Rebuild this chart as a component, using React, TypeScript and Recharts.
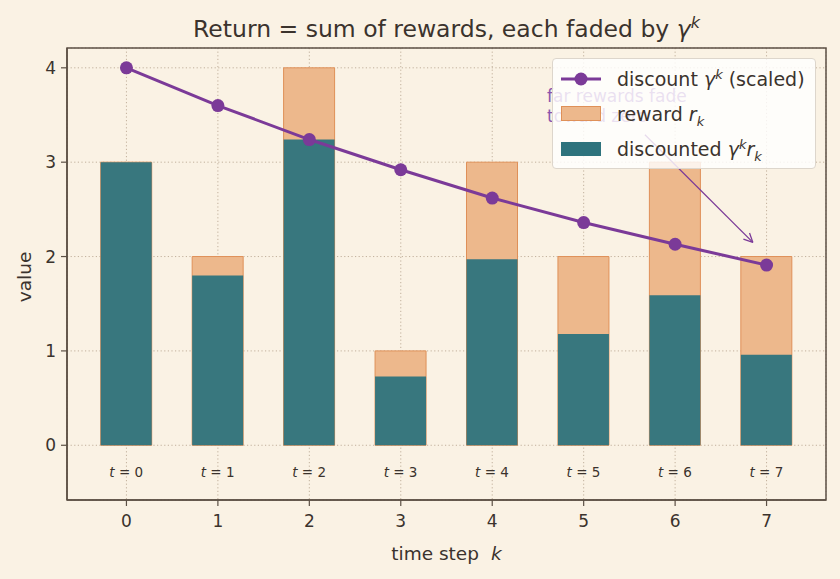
import React from 'react'
import {
  ComposedChart, Bar, Line, XAxis, YAxis, CartesianGrid, Legend,
  LabelList, ReferenceArea, ReferenceDot, ReferenceLine,
} from 'recharts'

const steps = [0, 1, 2, 3, 4, 5, 6, 7]
const rewards = [3, 2, 4, 1, 3, 2, 3, 2]
const discountScaled = [4, 3.6, 3.24, 2.92, 2.62, 2.36, 2.13, 1.91]
const discounted = [3, 1.8, 3.24, 0.73, 1.97, 1.18, 1.59, 0.96]
const xTicks = [0, 1, 2, 3, 4, 5, 6, 7]
const yTicks = [0, 1, 2, 3, 4]

const data = steps.map((k, i) => ({
  k,
  reward: rewards[i],
  discount: discountScaled[i],
  discounted: discounted[i],
}))

const BG = '#faf2e4'
const INK = '#3b332d'
const FRAME = '#5c5045'
const PURPLE = '#7b3a98'
const TEAL = '#2e737d'
const PEACH = '#edb88c'
const PEACH_EDGE = '#df9058'
const FONT = '"DejaVu Sans", sans-serif'

const X_DOMAIN: [number, number] = [-0.65, 7.65]
const Y_DOMAIN: [number, number] = [-0.58, 4.21]

const Arrow = (p: any) => {
  const { x1, y1, x2, y2 } = p
  const a = Math.atan2(y2 - y1, x2 - x1)
  const h = 10
  const s = 0.45
  return (
    <g stroke={PURPLE} strokeWidth={1.3} fill="none">
      <line x1={x1} y1={y1} x2={x2} y2={y2} />
      <line x1={x2} y1={y2} x2={x2 - h * Math.cos(a - s)} y2={y2 - h * Math.sin(a - s)} />
      <line x1={x2} y1={y2} x2={x2 - h * Math.cos(a + s)} y2={y2 - h * Math.sin(a + s)} />
    </g>
  )
}

const NoteLabel = (p: any) => {
  const { viewBox } = p
  const x = viewBox.x
  const y = viewBox.y
  return (
    <text x={x} y={y} fill="#8a55ad" fontSize={17} fontFamily={FONT} dominantBaseline="central">
      <tspan x={x} dy={-10}>far rewards fade</tspan>
      <tspan x={x} dy={20}>toward zero</tspan>
    </text>
  )
}

const StepLabel = (p: any) => {
  const { x, y, width, height, index } = p
  return (
    <text
      x={x + width / 2}
      y={y + height + 27}
      textAnchor="middle"
      dominantBaseline="central"
      fontSize={13.5}
      fill={INK}
      fontFamily={FONT}
    >
      <tspan fontStyle="italic">t</tspan>
      <tspan> = {steps[index]}</tspan>
    </text>
  )
}

const LegendBox = () => {
  const row: React.CSSProperties = { display: 'flex', alignItems: 'center', height: 35, lineHeight: '20px' }
  const icon: React.CSSProperties = { width: 40, marginRight: 16, display: 'flex', alignItems: 'center', justifyContent: 'center' }
  const script: React.CSSProperties = { fontSize: 13, lineHeight: 0 }
  return (
    <div
      style={{
        background: 'rgba(255,255,255,0.82)',
        border: '1px solid #ddd6cc',
        borderRadius: 4,
        padding: '2px 8px',
        fontFamily: FONT,
        fontSize: 19,
        color: INK,
        boxSizing: 'border-box',
        whiteSpace: 'nowrap',
      }}
    >
      <div style={row}>
        <div style={icon}>
          <svg width={40} height={14}>
            <line x1={0} y1={7} x2={40} y2={7} stroke={PURPLE} strokeWidth={3} />
            <circle cx={20} cy={7} r={6.5} fill={PURPLE} />
          </svg>
        </div>
        <span>discount <i>γ</i><sup style={script}><i>k</i></sup> (scaled)</span>
      </div>
      <div style={row}>
        <div style={icon}>
          <div style={{ width: 38, height: 13, background: PEACH, border: `1px solid ${PEACH_EDGE}` }} />
        </div>
        <span>reward <i>r</i><sub style={script}><i>k</i></sub></span>
      </div>
      <div style={row}>
        <div style={icon}>
          <div style={{ width: 40, height: 14, background: TEAL }} />
        </div>
        <span>discounted <i>γ</i><sup style={script}><i>k</i></sup><i>r</i><sub style={script}><i>k</i></sub></span>
      </div>
    </div>
  )
}

export default function App() {
  return (
    <div style={{ position: 'absolute', left: 0, top: 0, width: 840, height: 579, background: BG, fontFamily: FONT }}>
      <div
        style={{
          position: 'absolute', left: 67, width: 759, top: 15, textAlign: 'center',
          fontSize: 23.5, lineHeight: '28px', color: INK, fontFamily: FONT, zIndex: 2,
        }}
      >
        Return = sum of rewards, each faded by <i>γ</i><sup style={{ fontSize: 16, lineHeight: 0 }}><i>k</i></sup>
      </div>
      <ComposedChart
        width={840}
        height={579}
        data={data}
        margin={{ top: 48, right: 14, bottom: 0, left: 7 }}
        style={{ position: 'absolute', left: 0, top: 0 }}
      >
        <CartesianGrid stroke="#bba994" strokeDasharray="1.2 2.4" strokeWidth={0.9} />
        <XAxis
          dataKey="k"
          type="number"
          domain={X_DOMAIN}
          ticks={xTicks}
          allowDataOverflow
          height={79}
          axisLine={{ stroke: FRAME, strokeWidth: 1.5 }}
          tickLine={{ stroke: FRAME, strokeWidth: 1.2 }}
          tickSize={6}
          tick={{ fill: INK, fontSize: 17, fontFamily: FONT, dy: 7 }}
          label={(p: any) => {
            const vb = p.viewBox
            return (
              <text x={vb.x + vb.width / 2} y={vb.y + 53} textAnchor="middle" dominantBaseline="central" fontSize={18.5} fill={INK} fontFamily={FONT}>
                time step<tspan dx={12} fontStyle="italic">k</tspan>
              </text>
            )
          }}
        />
        <XAxis xAxisId="over" dataKey="k" type="number" domain={X_DOMAIN} allowDataOverflow hide />
        <YAxis
          type="number"
          domain={Y_DOMAIN}
          ticks={yTicks}
          allowDataOverflow
          width={60}
          axisLine={{ stroke: FRAME, strokeWidth: 1.5 }}
          tickLine={{ stroke: FRAME, strokeWidth: 1.2 }}
          tickSize={6}
          tick={{ fill: INK, fontSize: 17, fontFamily: FONT, dx: -3 }}
          label={(p: any) => {
            const vb = p.viewBox
            const cx = vb.x + 17
            const cy = vb.y + vb.height / 2 + 3
            return (
              <text x={cx} y={cy} transform={`rotate(-90 ${cx} ${cy})`} textAnchor="middle" dominantBaseline="central" fontSize={18.5} fill={INK} fontFamily={FONT}>
                value
              </text>
            )
          }}
        />
        <Bar
          dataKey="reward"
          barSize={51}
          fill={PEACH}
          stroke={PEACH_EDGE}
          strokeWidth={1}
          isAnimationActive={false}
        />
        <Bar
          xAxisId="over"
          dataKey="discounted"
          barSize={51}
          fill={TEAL}
          fillOpacity={0.95}
          isAnimationActive={false}
        >
          <LabelList dataKey="k" content={StepLabel} />
        </Bar>
        <Line
          dataKey="discount"
          type="linear"
          stroke={PURPLE}
          strokeWidth={3}
          dot={{ r: 6.5, fill: PURPLE, stroke: PURPLE, strokeWidth: 0 }}
          activeDot={false}
          isAnimationActive={false}
        />
        <ReferenceDot x={4.6} y={3.6} r={0} fill="none" stroke="none" label={NoteLabel} />
        <ReferenceLine
          segment={[{ x: 5.67, y: 3.29 }, { x: 6.85, y: 2.15 }]}
          shape={Arrow}
          ifOverflow="visible"
        />
        <ReferenceArea
          x1={X_DOMAIN[0]}
          x2={X_DOMAIN[1]}
          y1={Y_DOMAIN[0]}
          y2={Y_DOMAIN[1]}
          fill="none"
          fillOpacity={0}
          stroke={FRAME}
          strokeWidth={1.5}
          ifOverflow="visible"
        />
        <Legend
          layout="vertical"
          align="center"
          verticalAlign="middle"
          content={LegendBox}
          wrapperStyle={{ top: 58, left: 552, width: 264 }}
        />
      </ComposedChart>
    </div>
  )
}
